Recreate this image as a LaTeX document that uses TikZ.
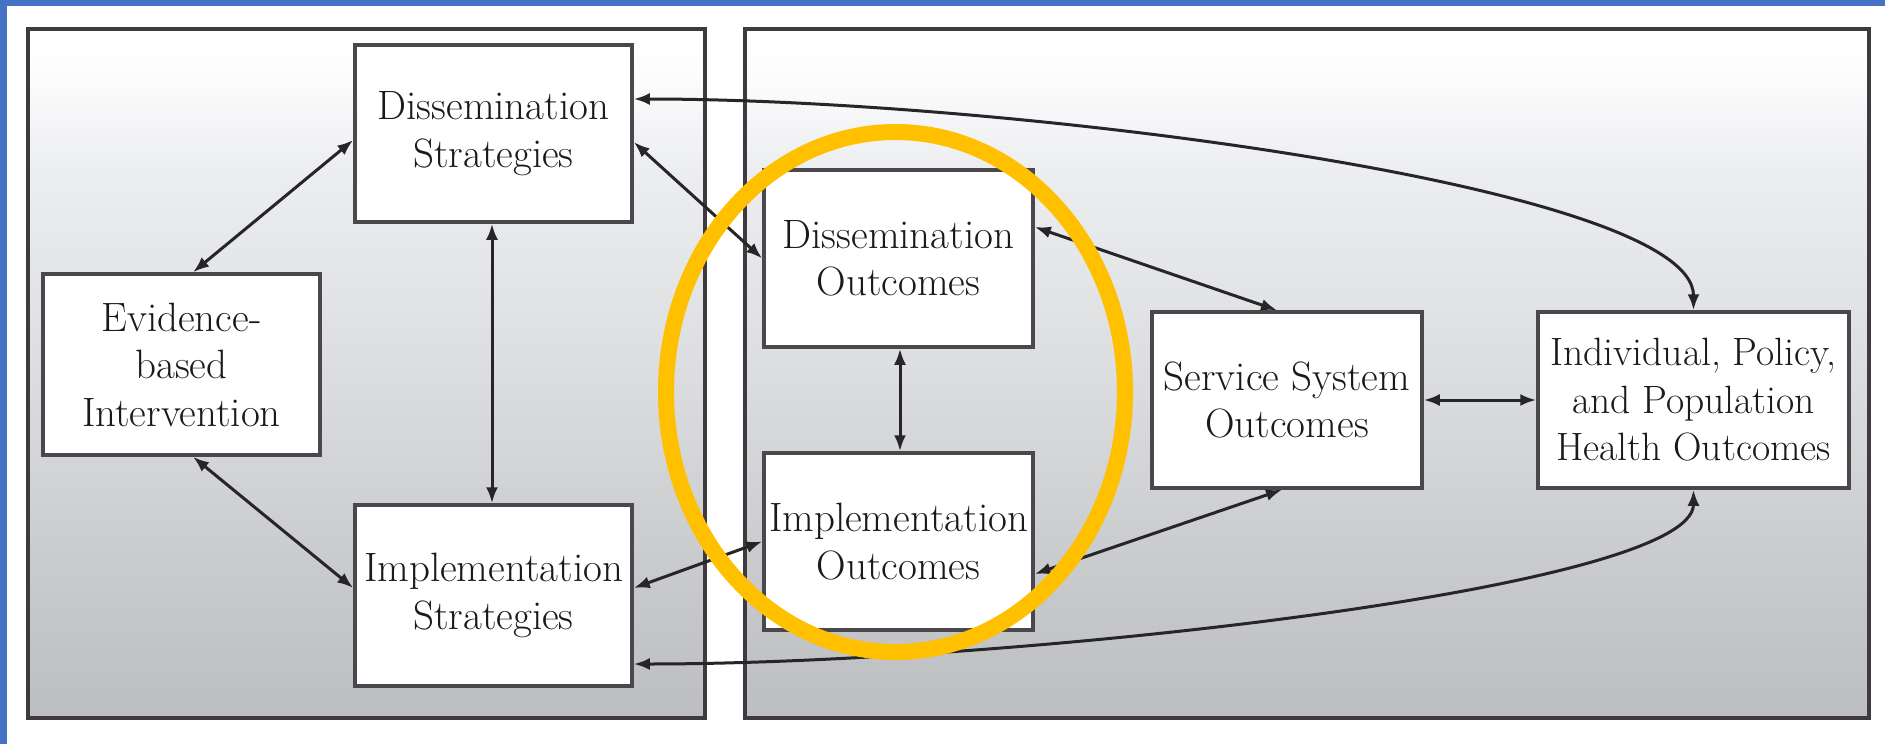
\documentclass[tikz,border=0pt]{standalone}
\usetikzlibrary{arrows.meta,calc}
\definecolor{framebl}{HTML}{4472C4}
\definecolor{panelline}{HTML}{3E3A40}
\definecolor{boxline}{HTML}{4A484C}
\definecolor{connline}{HTML}{262628}
\definecolor{txt}{HTML}{1A1A1A}
\definecolor{ringc}{HTML}{FFC000}
\pgfdeclareverticalshading{panelshade}{100bp}{%
  color(0bp)=(rgb,255:red,188;green,190;blue,193);
  color(25bp)=(rgb,255:red,188;green,190;blue,193);
  color(35bp)=(rgb,255:red,200;green,201;blue,202);
  color(50bp)=(rgb,255:red,219;green,221;blue,222);
  color(65bp)=(rgb,255:red,237;green,238;blue,240);
  color(72bp)=(rgb,255:red,253;green,253;blue,254);
  color(75bp)=(white);
  color(100bp)=(white)}
\begin{document}
\begin{tikzpicture}[x=1pt,y=-1pt,
  panel/.style={draw=panelline,line width=4pt,shading=panelshade},
  box/.style={draw=boxline,fill=white,line width=3.5pt,inner sep=0pt,
    align=center,text=txt,font=\fontsize{41}{47.5}\selectfont},
  conn/.style={draw=connline,line width=3pt,
    {Latex[length=16pt,width=12pt]}-{Latex[length=16pt,width=12pt]}},
  ring/.style={draw=ringc,line width=16pt}]
\useasboundingbox (0,0) rectangle (1885,744);
\fill[white] (0,0) rectangle (1885,744);
\fill[framebl] (0,0) rectangle (1885,6);
\fill[framebl] (0,0) rectangle (7,744);
% panels
\path[panel] (28,29) rectangle (704.5,718);
\path[panel] (745,29) rectangle (1869,718);
% boxes
\node[box,minimum width=277pt,minimum height=177pt] (DS) at (493.5,133.5) {Dissemination\\Strategies};
\node[box,minimum width=277pt,minimum height=181pt] (EBI) at (181.5,364.5) {Evidence-\\based\\Intervention};
\node[box,minimum width=277pt,minimum height=181pt] (IS) at (493.5,595.5) {Implementation\\Strategies};
\node[box,minimum width=269pt,minimum height=177pt] (DO) at (898.5,258.5) {Dissemination\\Outcomes};
\node[box,minimum width=269pt,minimum height=177pt] (IO) at (898.5,541.5) {Implementation\\Outcomes};
\node[box,minimum width=270pt,minimum height=176pt] (SSO) at (1287,400) {Service System\\Outcomes};
\node[box,minimum width=311pt,minimum height=176pt,font=\fontsize{39.5}{47.5}\selectfont] (IND) at (1693.5,400) {Individual, Policy,\\and Population\\Health Outcomes};
% connectors
\draw[conn] ([yshift=-6.5pt]DS.west) -- ([xshift=11.5pt]EBI.north);
\draw[conn] ([xshift=11.5pt]EBI.south) -- ([yshift=7.5pt]IS.west);
\draw[conn] ([xshift=-1.5pt]DS.south) -- ([xshift=-1.5pt]IS.north);
\draw[conn] ([yshift=-8.5pt]DS.east) -- (DO.west);
\draw[conn] ([xshift=1.5pt]DO.south) -- ([xshift=1.5pt]IO.north);
\draw[conn] ([yshift=7.5pt]IS.east) -- (IO.west);
\draw[conn] ([yshift=31.5pt]DO.east) -- ([xshift=-10pt]SSO.north);
\draw[conn] ([yshift=-32.5pt]IO.east) -- ([xshift=-5pt]SSO.south);
\draw[conn] (SSO.east) -- (IND.west);
\draw[conn] ([yshift=34.5pt]DS.east) .. controls +(368,0) and +(0,-125) .. (IND.north);
\draw[conn] ([yshift=-68.5pt]IS.east) .. controls +(368,0) and +(0,100) .. (IND.south);
% highlight ring
\draw[ring] (895.5,392) ellipse [x radius=229.5, y radius=260];
\end{tikzpicture}
\end{document}
